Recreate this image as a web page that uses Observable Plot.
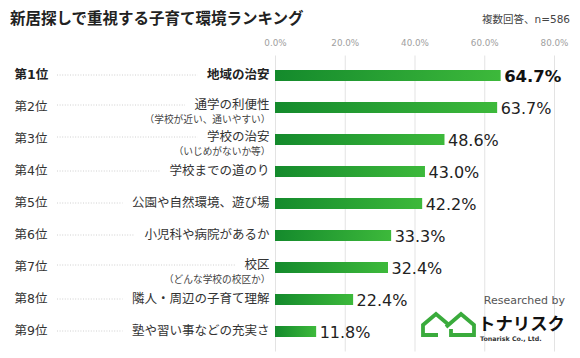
<!DOCTYPE html>
<html><head><meta charset="utf-8">
<script src="https://cdn.jsdelivr.net/npm/d3@7"></script>
<script src="https://cdn.jsdelivr.net/npm/@observablehq/plot@0.6"></script>
<style>
body{margin:0;background:#fff;}
#wrap{position:relative;width:580px;height:358px;overflow:hidden;font-family:"DejaVu Sans","Noto Sans CJK JP",sans-serif;}
#title{position:absolute;left:10px;top:8px;font-family:"Noto Sans CJK JP",sans-serif;font-size:15.5px;line-height:18px;font-weight:bold;color:#222;white-space:nowrap;}
#note{position:absolute;right:10px;top:12px;font-size:10.5px;line-height:14px;color:#444;white-space:nowrap;}
#chart{position:absolute;left:0;top:0;}
#logo{position:absolute;left:0;top:0;pointer-events:none;}
</style></head><body>
<div id="wrap">
  <div id="chart"></div>
  <div id="title">新居探しで重視する子育て環境ランキング</div>
  <div id="note">複数回答、n=586</div>
  <svg id="logo" width="580" height="358">
    <text x="565" y="300" text-anchor="end" dominant-baseline="central" font-family="DejaVu Sans, sans-serif" font-size="11" fill="#555">Researched by</text>
    <g fill="none" stroke="#3aab3c" stroke-width="3.8" stroke-linejoin="miter" stroke-linecap="butt">
      <path d="M438 335 H423 V325 L436 314 L449 325"/>
      <path d="M446 327 L461 314 L474 325 V335 H451 V329"/>
    </g>
    <text x="478" y="322" dominant-baseline="central" font-family="Noto Sans CJK JP, sans-serif" font-size="17" font-weight="bold" fill="#111" textLength="87" lengthAdjust="spacingAndGlyphs">トナリスク</text>
    <text x="480" y="338" dominant-baseline="central" font-family="DejaVu Sans, sans-serif" font-size="6.3" font-weight="bold" fill="#333">Tonarisk Co., Ltd.</text>
  </svg>
</div>
<script>
const ranks = ["第1位","第2位","第3位","第4位","第5位","第6位","第7位","第8位","第9位"];
const labels = ["地域の治安","通学の利便性","学校の治安","学校までの道のり","公園や自然環境、遊び場","小児科や病院があるか","校区","隣人・周辺の子育て理解","塾や習い事などの充実さ"];
const sublabels = ["","（学校が近い、通いやすい）","（いじめがないか等）","","","","（どんな学校の校区か）","",""];
const values = [64.7,63.7,48.6,43.0,42.2,33.3,32.4,22.4,11.8];
const ticks = [0,20,40,60,80];

const FONT = '"DejaVu Sans", "Noto Sans CJK JP", sans-serif';
const W = 580, H = 358, mL = 275, mR = 26, mT = 55.5, mB = 6.5;
const xs = d3.scaleLinear([0, 80], [mL, W - mR]);
const ctx = document.createElement("canvas").getContext("2d");
const labelRight = mL - 6;
const rows = ranks.map((r, i) => {
  ctx.font = (i === 0 ? "bold " : "") + '12.5px ' + FONT;
  const w = ctx.measureText(labels[i]).width;
  return {rank: r, label: labels[i], sub: sublabels[i], value: values[i], first: i === 0,
          l1: xs.invert(57), l2: xs.invert(labelRight - w - 9)};
});
const first = rows.filter(d => d.first);
const plainNoSub = rows.filter(d => !d.first && !d.sub);
const withSub = rows.filter(d => d.sub);
const rest = rows.filter(d => !d.first);

const defs = () => {
  const ns = "http://www.w3.org/2000/svg";
  const d = document.createElementNS(ns, "defs");
  d.innerHTML = `<linearGradient id="grad" x1="0" x2="1" y1="0" y2="0">
    <stop offset="0" stop-color="#148a2c"/><stop offset="1" stop-color="#3db93b"/></linearGradient>`;
  return d;
};

const plot = Plot.plot({
  width: W, height: H,
  marginLeft: mL, marginRight: mR, marginTop: mT, marginBottom: mB,
  style: {fontFamily: FONT, background: "transparent"},
  x: {domain: [0, 80], axis: null},
  y: {type: "band", domain: ranks, paddingInner: 0.66, paddingOuter: 0.33, axis: null},
  marks: [
    defs,
    Plot.gridX(ticks, {stroke: "#e3e3e3", strokeOpacity: 1, strokeWidth: 1}),
    Plot.axisX(ticks, {anchor: "top", tickSize: 0, tickPadding: 10, label: null,
      tickFormat: d => d.toFixed(1) + "%", fill: "#a0a0a0", fontSize: 8.8}),
    Plot.ruleY(rows.filter(d => !d.sub), {y: "rank", x1: "l1", x2: "l2", stroke: "#c4c4c4", strokeWidth: 0.8, strokeDasharray: "1,1.6", dy: -1}),
    Plot.ruleY(withSub, {y: "rank", x1: "l1", x2: "l2", stroke: "#c4c4c4", strokeWidth: 0.8, strokeDasharray: "1,1.6", dy: -3}),
    Plot.barX(rows, {x: "value", y: "rank", fill: "url(#grad)"}),
    Plot.text(first, {y: "rank", text: "rank", frameAnchor: "left", dx: -261, dy: -1, textAnchor: "start", fontSize: 12.5, fontWeight: "bold", fill: "#222"}),
    Plot.text(rest, {y: "rank", text: "rank", frameAnchor: "left", dx: -261, dy: -1, textAnchor: "start", fontSize: 12.5, fill: "#333"}),
    Plot.text(first, {y: "rank", text: "label", frameAnchor: "left", dx: -6, dy: -1, textAnchor: "end", fontSize: 12.5, fontWeight: "bold", fill: "#222"}),
    Plot.text(plainNoSub, {y: "rank", text: "label", frameAnchor: "left", dx: -6, dy: -1, textAnchor: "end", fontSize: 12.5, fill: "#333"}),
    Plot.text(withSub, {y: "rank", text: "label", frameAnchor: "left", dx: -6, dy: -3, textAnchor: "end", fontSize: 12.5, fill: "#333"}),
    Plot.text(withSub, {y: "rank", text: "sub", frameAnchor: "left", dx: -5, dy: 11.5, textAnchor: "end", fontSize: 9.7, fill: "#444"}),
    Plot.text(first, {x: "value", y: "rank", text: d => d.value.toFixed(1) + "%", dx: 3, dy: 1, textAnchor: "start", fontSize: 16.5, fontWeight: "bold", fill: "#111"}),
    Plot.text(rest, {x: "value", y: "rank", text: d => d.value.toFixed(1) + "%", dx: 3, dy: 1, textAnchor: "start", fontSize: 16, fill: "#222"})
  ]
});
document.getElementById("chart").appendChild(plot);
</script>
</body></html>
